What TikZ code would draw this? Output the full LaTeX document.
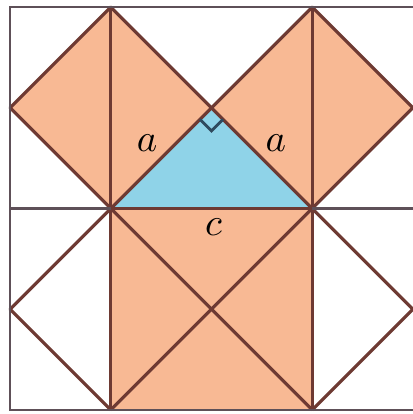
\documentclass[tikz,border=0pt]{standalone}
\usepackage{tikz}
\usetikzlibrary{calc}
\definecolor{legfill}{HTML}{F8B994}
\definecolor{trifill}{HTML}{8FD3E8}
\definecolor{edgec}{HTML}{6E3A33}
\definecolor{framec}{HTML}{5E5058}
\definecolor{markc}{HTML}{2E4A5E}
\tikzset{
  edge/.style={draw=edgec, line width=0.9pt, line join=round},
  frame/.style={draw=framec, line width=0.75pt},
  lbl/.style={font=\fontsize{11}{12}\selectfont, inner sep=0pt}
}
\begin{document}
\begin{tikzpicture}[x=1cm,y=1cm]
\useasboundingbox (-0.0995,-0.04) rectangle (4.0,4.07);
% named points
\coordinate (P00) at (0,0); \coordinate (P40) at (4,0);
\coordinate (P44) at (4,4); \coordinate (P04) at (0,4);
\coordinate (A) at (1,2); \coordinate (B) at (3,2); \coordinate (C) at (2,3);
\coordinate (L1) at (1,4); \coordinate (L2) at (0,3);
\coordinate (R1) at (3,4); \coordinate (R2) at (4,3);
\coordinate (S1) at (1,0); \coordinate (S2) at (3,0);
\coordinate (W1) at (0,1); \coordinate (W2) at (4,1);
\coordinate (M0) at (0,2); \coordinate (M4) at (4,2);
\coordinate (RA1) at ($(C)+(-0.115,-0.115)$);
\coordinate (RA2) at ($(C)+(0,-0.23)$);
\coordinate (RA3) at ($(C)+(0.115,-0.115)$);
% fills
\fill[legfill] (A) -- (C) -- (L1) -- (L2) -- cycle;
\fill[legfill] (B) -- (C) -- (R1) -- (R2) -- cycle;
\fill[legfill] (S1) -- (S2) -- (B) -- (A) -- cycle;
\fill[trifill] (A) -- (B) -- (C) -- cycle;
% squares on legs
\draw[edge] (A) -- (C) -- (L1) -- (L2) -- cycle;
\draw[edge] (A) -- (L1);
\draw[edge] (B) -- (C) -- (R1) -- (R2) -- cycle;
\draw[edge] (B) -- (R1);
% square on hypotenuse
\draw[edge] (S1) -- (A) -- (B) -- (S2);
\draw[edge] (S1) -- (B);
\draw[edge] (A) -- (S2);
% white side triangles
\draw[edge] (A) -- (W1) -- (S1);
\draw[edge] (B) -- (W2) -- (S2);
% outer frame (right side lies outside the picture)
\draw[frame] (P40) -- (P00) -- (P04) -- (P44);
\draw[frame] (M0) -- (A);
\draw[frame] (B) -- (M4);
% right-angle mark
\draw[draw=markc, line width=0.8pt] (RA1) -- (RA2) -- (RA3);
% labels
\node[lbl] (la) at (1.36,2.65) {$a$};
\node[lbl] (lb) at (2.64,2.65) {$a$};
\node[lbl] (lc) at (2.02,1.81) {$c$};
\end{tikzpicture}
\end{document}
